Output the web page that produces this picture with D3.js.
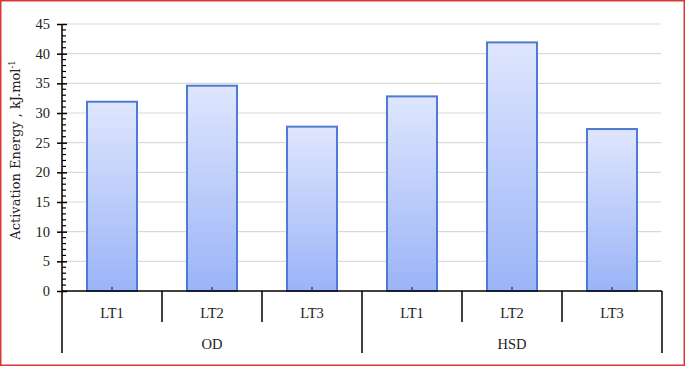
<!DOCTYPE html>
<html>
<head>
<meta charset="utf-8">
<script src="https://cdn.jsdelivr.net/npm/d3@7"></script>
<style>
  body { margin: 0; background: #fff; }
  svg { display: block; }
  text { font-family: "Palatino Linotype", "Book Antiqua", "Liberation Serif", serif; fill: #222; }
</style>
</head>
<body>
<div class="chart"></div>
<script>
var groups = ["OD", "HSD"];
var labels = ["LT1", "LT2", "LT3"];
var values = [31.9, 34.6, 27.7, 32.8, 41.9, 27.3];
var yTicks = [0, 5, 10, 15, 20, 25, 30, 35, 40, 45];

var W = 685, H = 366;
var plotLeft = 62, plotRight = 662, plotTop = 24, base = 291;

var svg = d3.select(".chart").append("svg")
    .attr("width", W).attr("height", H);

// outer frame
svg.append("rect")
    .attr("x", 0.75).attr("y", 0.75)
    .attr("width", W - 1.5).attr("height", H - 1.5)
    .attr("fill", "none").attr("stroke", "#d93636").attr("stroke-width", 1.5);

var defs = svg.append("defs");
var grad = defs.append("linearGradient").attr("id", "barGrad")
    .attr("x1", 0).attr("y1", 0).attr("x2", 0).attr("y2", 1);
grad.append("stop").attr("offset", "0%").attr("stop-color", "#dfe6fd");
grad.append("stop").attr("offset", "100%").attr("stop-color", "#9bb4f8");

var cats = [];
groups.forEach(function(g) {
    labels.forEach(function(l) { cats.push(g + "|" + l); });
});
var data = cats.map(function(c, i) { return {key: c, label: c.split("|")[1], value: values[i]}; });

var x = d3.scaleBand().domain(cats).range([plotLeft, plotRight]);
var y = d3.scaleLinear().domain([0, 45]).range([base, plotTop]);

// gridlines
svg.append("g").selectAll("line")
    .data(yTicks.filter(function(d) { return d > 0; }))
    .join("line")
    .attr("x1", plotLeft).attr("x2", plotRight - 1)
    .attr("y1", function(d) { return y(d); })
    .attr("y2", function(d) { return y(d); })
    .attr("stroke", "#d9d9d9").attr("stroke-width", 1.2);

// bars
var bw = 50;
svg.append("g").selectAll("rect")
    .data(data)
    .join("rect")
    .attr("x", function(d) { return x(d.key) + (x.bandwidth() - bw) / 2; })
    .attr("y", function(d) { return y(d.value); })
    .attr("width", bw)
    .attr("height", function(d) { return base - y(d.value); })
    .attr("fill", "url(#barGrad)")
    .attr("stroke", "#4e7bd2").attr("stroke-width", 2);

// y axis
var yAxis = svg.append("g").attr("transform", "translate(" + plotLeft + ",0)")
    .call(d3.axisLeft(y).tickValues(yTicks).tickSize(5).tickPadding(7))
    .call(function(g) { g.select(".domain").remove(); });
yAxis.selectAll(".tick line").attr("x2", -5).attr("x1", 5).attr("stroke", "#000").attr("stroke-width", 1.5);
yAxis.selectAll(".tick text")
    .attr("font-size", 14.5)
    .attr("fill", "#222");

// minor ticks
svg.append("g").selectAll("line")
    .data(d3.range(1, 45).filter(function(d) { return d % 5 !== 0; }))
    .join("line")
    .attr("x1", plotLeft).attr("x2", plotLeft + 4)
    .attr("y1", function(d) { return y(d); })
    .attr("y2", function(d) { return y(d); })
    .attr("stroke", "#000").attr("stroke-width", 1.2);

// axis lines
svg.append("line")
    .attr("x1", plotLeft).attr("x2", plotLeft)
    .attr("y1", plotTop).attr("y2", 353)
    .attr("stroke", "#000").attr("stroke-width", 1.5);
svg.append("line")
    .attr("x1", plotLeft).attr("x2", plotRight)
    .attr("y1", base).attr("y2", base)
    .attr("stroke", "#000").attr("stroke-width", 1.5);

// x category separators
var bounds = cats.map(function(c) { return x(c); }).concat([plotRight]);
svg.append("g").selectAll("line")
    .data(bounds.slice(1))
    .join("line")
    .attr("x1", function(d) { return d; }).attr("x2", function(d) { return d; })
    .attr("y1", base)
    .attr("y2", function(d, i) { return (i + 1) % labels.length === 0 ? 353 : 322; })
    .attr("stroke", "#000").attr("stroke-width", 1.5);

// small centre ticks
svg.append("g").selectAll("line")
    .data(cats)
    .join("line")
    .attr("x1", function(d) { return x(d) + x.bandwidth() / 2; })
    .attr("x2", function(d) { return x(d) + x.bandwidth() / 2; })
    .attr("y1", base).attr("y2", base - 4)
    .attr("stroke", "#333").attr("stroke-width", 1.2);

// category labels
svg.append("g").selectAll("text")
    .data(data)
    .join("text")
    .attr("x", function(d) { return x(d.key) + x.bandwidth() / 2; })
    .attr("y", 318)
    .attr("text-anchor", "middle")
    .attr("font-size", 14.5)
    .text(function(d) { return d.label; });

// group labels
svg.append("g").selectAll("text")
    .data(groups)
    .join("text")
    .attr("x", function(g) {
        return (x(g + "|" + labels[0]) + x(g + "|" + labels[labels.length - 1]) + x.bandwidth()) / 2;
    })
    .attr("y", 349)
    .attr("text-anchor", "middle")
    .attr("font-size", 14.5)
    .text(function(g) { return g; });

// y title
var title = svg.append("text")
    .attr("transform", "translate(20,150) rotate(-90)")
    .attr("text-anchor", "middle")
    .style("font-family", "'DejaVu Serif', serif")
    .style("font-size", "13px");
title.append("tspan").text("Activation Energy , kJ.mol");
title.append("tspan").attr("baseline-shift", "super").style("font-size", "8.5px").text("-1");
</script>
</body>
</html>
